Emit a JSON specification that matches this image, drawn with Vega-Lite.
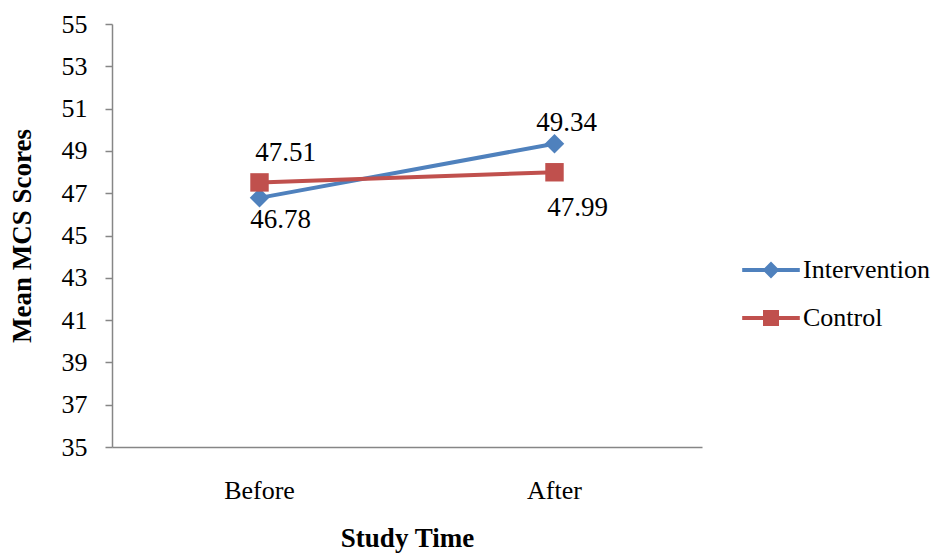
{
  "$schema": "https://vega.github.io/schema/vega-lite/v6.json",
  "autosize": "none",
  "width": 590,
  "height": 423,
  "padding": {"left": 112, "top": 24, "right": 242, "bottom": 107},
  "background": "white",
  "config": {
    "view": {"stroke": null},
    "font": "Liberation Serif",
    "axis": {"grid": false, "domainColor": "#868686", "tickColor": "#868686", "labelColor": "#000000", "titleColor": "#000000"},
    "legend": {"labelFontSize": 26, "labelColor": "#000000"}
  },
  "data": {"values": [
    {"time": "Before", "group": "Intervention", "score": 46.78},
    {"time": "After", "group": "Intervention", "score": 49.34},
    {"time": "Before", "group": "Control", "score": 47.51},
    {"time": "After", "group": "Control", "score": 47.99}
  ]},
  "encoding": {
    "x": {"field": "time", "type": "nominal", "sort": ["Before", "After"],
      "scale": {"type": "band", "paddingInner": 0, "paddingOuter": 0},
      "axis": {"title": "Study Time", "labelAngle": 0, "ticks": false, "tickSize": 0, "labelFontSize": 26, "labelPadding": 30, "titleFontSize": 27, "titleFontWeight": "bold", "titlePadding": 22, "domainWidth": 1.5}},
    "y": {"field": "score", "type": "quantitative",
      "scale": {"domain": [35, 55], "nice": false, "zero": false},
      "axis": {"title": "Mean MCS Scores", "values": [35, 37, 39, 41, 43, 45, 47, 49, 51, 53, 55], "tickSize": 7, "labelPadding": 18, "labelFontSize": 26, "titleFontSize": 27, "titleFontWeight": "bold", "titlePadding": 25, "domainWidth": 1.5, "tickWidth": 1.5}}
  },
  "layer": [
    {"mark": {"type": "line", "strokeWidth": 4},
     "encoding": {"color": {"field": "group", "type": "nominal",
      "scale": {"domain": ["Intervention", "Control"], "range": ["#4F81BD", "#C0504D"]},
      "legend": {"title": null, "orient": "none", "legendX": 646, "legendY": 233, "padding": 0,
        "symbolSize": 256, "labelOffset": 19, "rowPadding": 22,
        "encode": {"symbols": {"update": {
          "shape": {"signal": "datum.value === 'Intervention' ? 'M-3.6,-0.25H3.6V0.25H-3.6ZM0,-1.05L1.05,0L0,1.05L-1.05,0Z' : 'M-3.6,-0.25H3.6V0.25H-3.6ZM-1,-1H1V1H-1Z'"},
          "fill": {"signal": "datum.value === 'Intervention' ? '#4F81BD' : '#C0504D'"},
          "strokeWidth": {"value": 0},
          "opacity": {"value": 1}}}}}}}},
    {"transform": [{"filter": "datum.group === 'Intervention'"}],
     "mark": {"type": "point", "shape": "diamond", "filled": true, "size": 380, "opacity": 1, "color": "#4F81BD"}},
    {"transform": [{"filter": "datum.group === 'Control'"}],
     "mark": {"type": "point", "shape": "square", "filled": true, "size": 340, "opacity": 1, "color": "#C0504D"}},
    {"transform": [{"filter": "datum.group === 'Control' && datum.time === 'Before'"}],
     "mark": {"type": "text", "fontSize": 27, "color": "#000000", "dx": 26, "dy": -29},
     "encoding": {"text": {"field": "score", "type": "quantitative", "format": ".2f"}}},
    {"transform": [{"filter": "datum.group === 'Intervention' && datum.time === 'Before'"}],
     "mark": {"type": "text", "fontSize": 27, "color": "#000000", "dx": 21, "dy": 22},
     "encoding": {"text": {"field": "score", "type": "quantitative", "format": ".2f"}}},
    {"transform": [{"filter": "datum.group === 'Intervention' && datum.time === 'After'"}],
     "mark": {"type": "text", "fontSize": 27, "color": "#000000", "dx": 12, "dy": -21},
     "encoding": {"text": {"field": "score", "type": "quantitative", "format": ".2f"}}},
    {"transform": [{"filter": "datum.group === 'Control' && datum.time === 'After'"}],
     "mark": {"type": "text", "fontSize": 27, "color": "#000000", "dx": 23, "dy": 36},
     "encoding": {"text": {"field": "score", "type": "quantitative", "format": ".2f"}}}
  ]
}
